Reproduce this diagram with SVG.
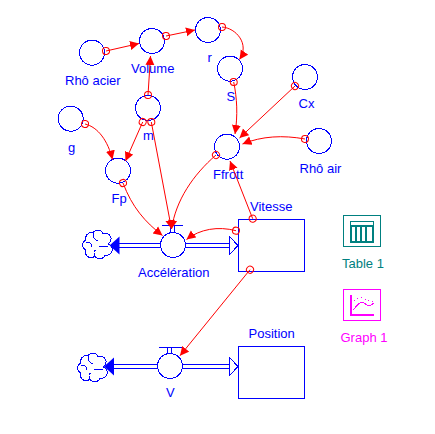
<svg xmlns="http://www.w3.org/2000/svg" width="435" height="434" viewBox="0 0 435 434">
<style>
text{font-family:"Liberation Sans",Arial,sans-serif;font-size:13px;fill:#0000ff}
.n{fill:#fff;stroke:#0000ff;stroke-width:1;shape-rendering:crispEdges}
.b{fill:none;stroke:#0000ff;stroke-width:1;shape-rendering:crispEdges}
.bf{fill:#0000ff;stroke:none}
.c{fill:none;stroke:#ff0000;stroke-width:1;marker-start:url(#o);marker-end:url(#a)}
.t{fill:none;stroke:#008080;stroke-width:1;shape-rendering:crispEdges}
.g{fill:none;stroke:#ff00ff;stroke-width:1;shape-rendering:crispEdges}
</style>
<defs>
<marker id="a" markerUnits="userSpaceOnUse" markerWidth="11" markerHeight="11" refX="9" refY="5" orient="auto"><path d="M0,0.5L9,5L0,9.5Z" fill="#ff0000"/></marker>
<marker id="o" markerUnits="userSpaceOnUse" markerWidth="11" markerHeight="11" refX="5.5" refY="5.5" orient="auto"><circle cx="5.5" cy="5.5" r="3.5" fill="none" stroke="#ff0000"/></marker>
<g id="cloud"><path class="b" d="M-4,-12A5.5,5.5 0 0 1 6,-11A5.5,5.5 0 0 1 11,-1A5.5,5.5 0 0 1 8,10A5.5,5.5 0 0 1 -2,11A5.5,5.5 0 0 1 -11,5A5.5,5.5 0 0 1 -11,-5A5.5,5.5 0 0 1 -4,-12Z"/><path class="b" d="M-11,-2C-7,-4 -5,-1 -5,2M-4,-12C-4,-8 -2,-5 1,-4M11,1L2,2M-2,11C-4,8 -3,6 -1,5"/></g>
</defs>
<g id="rho-acier"><circle class="n" cx="92" cy="52.7" r="12.5"/><text x="65" y="85">Rhô acier</text></g>
<g id="volume"><circle class="n" cx="152" cy="41" r="12.5"/><text x="131" y="72.7">Volume</text></g>
<g id="r"><circle class="n" cx="208" cy="30" r="12.5"/><text x="207.5" y="62">r</text></g>
<g id="s"><circle class="n" cx="230" cy="68.7" r="12.5"/><text x="226.5" y="100.7">S</text></g>
<g id="m"><circle class="n" cx="148" cy="108" r="12.5"/><text x="143" y="140">m</text></g>
<g id="g"><circle class="n" cx="70.7" cy="118.7" r="12.5"/><text x="68" y="151.7">g</text></g>
<g id="cx"><circle class="n" cx="305" cy="77" r="12.5"/><text x="298.5" y="108.3">Cx</text></g>
<g id="rho-air"><circle class="n" cx="319" cy="141" r="12.5"/><text x="299.5" y="172.7">Rhô air</text></g>
<g id="ffrott"><circle class="n" cx="227" cy="146.7" r="12.5"/><text x="213" y="178.7">Ffrott</text></g>
<g id="fp"><circle class="n" cx="118" cy="170.7" r="12.5"/><text x="111.5" y="203.3">Fp</text></g>
<g id="vitesse"><rect class="b" x="238.5" y="219.5" width="66" height="52"/><text x="250" y="210.7">Vitesse</text></g>
<g id="position"><rect class="b" x="238.5" y="346.5" width="66" height="52"/><text x="248.5" y="338">Position</text></g>
<g id="acceleration">
<use href="#cloud" x="97" y="245"/>
<path class="bf" d="M109.5,245.5L119.5,236.5V254.5Z"/>
<path class="b" d="M119,243.5H161M119,247.5H161M185,243.5H230M185,247.5H230"/>
<path class="n" d="M229.5,236.5L238,245.5L229.5,254.5Z"/>
<path class="b" d="M162,225.5H183M170.5,225.5V233.5M174.5,225.5V233.5"/>
<circle class="n" cx="173" cy="245" r="12.5"/>
<text x="138" y="276.7">Accélération</text>
</g>
<g id="v">
<use href="#cloud" x="92" y="368"/>
<path class="bf" d="M104,366.5L114,357.5V375.5Z"/>
<path class="b" d="M114,364.5H158M114,368.5H158M182,364.5H229M182,368.5H229"/>
<path class="n" d="M229.5,357.5L238,366.5L229.5,375.5Z"/>
<path class="b" d="M158.5,347.5H181.5M167.5,347.5V354M171.5,347.5V354"/>
<circle class="n" cx="170" cy="366" r="12.5"/>
<text x="166" y="397.3">V</text>
</g>
<g id="table-1">
<rect class="t" x="343.5" y="215.5" width="37" height="31"/>
<path fill="#008080" fill-rule="evenodd" d="M350,221H374V243H350ZM351,222V225H373V222ZM352,227V241H355V227ZM357,227V241H360V227ZM362,227V241H365V227ZM367,227V241H372V227Z"/>
<text x="342" y="267.7" style="fill:#008080">Table 1</text>
</g>
<g id="graph-1">
<rect class="g" x="343.5" y="289.5" width="37" height="31"/>
<path fill="#ff00ff" d="M350,295H352V314H374V316H350Z"/>
<path class="g" d="M353,310C357,306 359,302 362,302C365,302 366,306 369,306C371,306 372,304 374,303"/>
<path class="g" stroke-dasharray="1 3" d="M354,301C358,298 361,296 364,299C367,301 370,299 373,302"/>
<text x="340.5" y="341.7" style="fill:#ff00ff">Graph 1</text>
</g>
<g id="connectors">
<path class="c" d="M106,51L139,43.5"/>
<path class="c" d="M166,36L195,30"/>
<path class="c" d="M222,27C236,28 250,44 239.5,59.5"/>
<path class="c" d="M148,95L150.5,56"/>
<path class="c" d="M233.7,82C237,98 238,115 235,134"/>
<path class="c" d="M295,86L239.5,138"/>
<path class="c" d="M305,139C283,135 262,136 242.5,144"/>
<path class="c" d="M252.7,218.7L230,161"/>
<path class="c" d="M142.7,122L125.5,161"/>
<path class="c" d="M151.3,122L171.5,229"/>
<path class="c" d="M216,155C193,175 176,200 171.5,229"/>
<path class="c" d="M85,124C98,127 108,141 112.5,159.5"/>
<path class="c" d="M123,183C132,207 145,222 162.5,235.5"/>
<path class="c" d="M236,230.7C218,226 200,229 186.5,239.5"/>
<path class="c" d="M250,269.7L180,355.7"/>
</g>
</svg>
